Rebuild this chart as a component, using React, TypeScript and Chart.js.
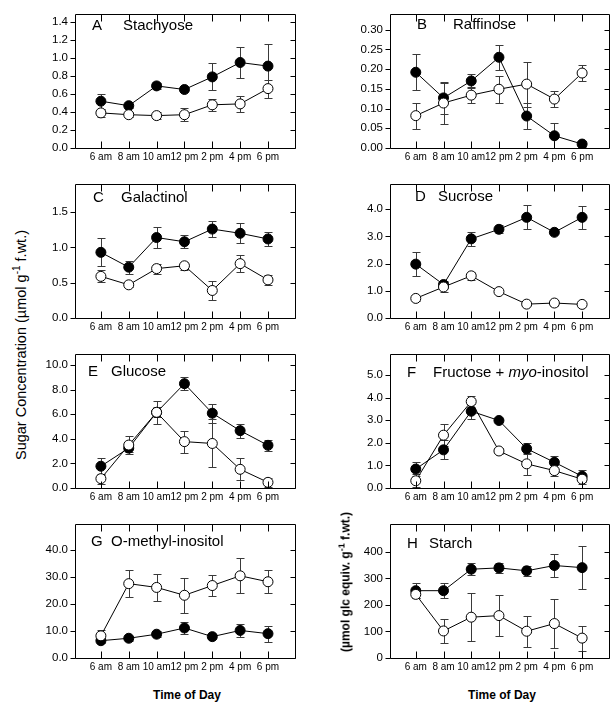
import React, { useEffect, useRef } from "react";
import { Chart, registerables } from "chart.js";
Chart.register(...registerables);

Chart.defaults.font.family = "'Liberation Sans', Arial, Helvetica, sans-serif";
Chart.defaults.color = "#000";

// ---------- data ----------
const timeLabels = ["6 am", "8 am", "10 am", "12 pm", "2 pm", "4 pm", "6 pm"];

// A Stachyose
const stachyoseDark = [0.52, 0.47, 0.69, 0.65, 0.79, 0.95, 0.91];
const stachyoseDarkErr = [0.085, 0.02, 0.03, 0.02, 0.15, 0.17, 0.25];
const stachyoseLight = [0.39, 0.37, 0.36, 0.37, 0.48, 0.49, 0.66];
const stachyoseLightErr = [0.04, 0.025, 0.04, 0.07, 0.07, 0.085, 0.1];
const stachyoseTicks = [0, 0.2, 0.4, 0.6, 0.8, 1.0, 1.2, 1.4];

// B Raffinose
const raffinoseDark = [0.192, 0.127, 0.17, 0.23, 0.081, 0.031, 0.01];
const raffinoseDarkErr = [0.046, 0.04, 0.018, 0.031, 0.032, 0.032, 0.008];
const raffinoseLight = [0.082, 0.114, 0.134, 0.149, 0.162, 0.124, 0.19];
const raffinoseLightErr = [0.033, 0.052, 0.02, 0.034, 0.057, 0.021, 0.021];
const raffinoseTicks = [0, 0.05, 0.1, 0.15, 0.2, 0.25, 0.3];

// C Galactinol
const galactinolDark = [0.93, 0.72, 1.14, 1.08, 1.26, 1.2, 1.12];
const galactinolDarkErr = [0.2, 0.09, 0.155, 0.09, 0.115, 0.14, 0.1];
const galactinolLight = [0.59, 0.47, 0.7, 0.74, 0.39, 0.77, 0.54];
const galactinolLightErr = [0.085, 0.03, 0.07, 0.06, 0.13, 0.12, 0.075];
const galactinolTicks = [0, 0.5, 1.0, 1.5];

// D Sucrose
const sucroseDark = [1.98, 1.23, 2.91, 3.26, 3.7, 3.15, 3.7];
const sucroseDarkErr = [0.43, 0.12, 0.25, 0.15, 0.44, 0.08, 0.41];
const sucroseLight = [0.72, 1.14, 1.55, 0.97, 0.51, 0.55, 0.5];
const sucroseLightErr = [0.08, 0.2, 0.14, 0.05, 0.05, 0.12, 0.05];
const sucroseTicks = [0, 1, 2, 3, 4];

// E Glucose
const glucoseDark = [1.77, 3.24, 6.15, 8.48, 6.08, 4.66, 3.47];
const glucoseDarkErr = [0.7, 0.3, 0.95, 0.53, 0.78, 0.57, 0.47];
const glucoseLight = [0.76, 3.49, 6.15, 3.77, 3.62, 1.52, 0.46];
const glucoseLightErr = [0.4, 0.75, 0.4, 0.9, 1.95, 0.9, 0.35];
const glucoseTicks = [0, 2, 4, 6, 8, 10];

// F Fructose + myo-inositol
const fructoseDark = [0.84, 1.69, 3.4, 2.99, 1.74, 1.14, 0.52];
const fructoseDarkErr = [0.3, 0.42, 0.33, 0.08, 0.24, 0.28, 0.27];
const fructoseLight = [0.32, 2.34, 3.83, 1.64, 1.07, 0.77, 0.39];
const fructoseLightErr = [0.28, 0.5, 0.25, 0.12, 0.5, 0.25, 0.2];
const fructoseTicks = [0, 1, 2, 3, 4, 5];

// G O-methyl-inositol
const omiDark = [6.4, 7.3, 8.8, 11.1, 7.9, 10.2, 9.0];
const omiDarkErr = [1, 1, 1.2, 2.3, 0.8, 2.3, 3];
const omiLight = [8.2, 27.5, 26.1, 23.2, 26.8, 30.4, 28.2];
const omiLightErr = [2.3, 5.1, 4.9, 6.4, 3.8, 6.5, 4.3];
const omiTicks = [0, 10, 20, 30, 40];

// H Starch
const starchDark = [254, 254, 335, 340, 329, 349, 341];
const starchDarkErr = [28, 28, 22, 19, 18, 43, 80];
const starchLight = [240, 102, 154, 160, 101, 130, 75];
const starchLightErr = [15, 44, 90, 76, 58, 91, 47];
const starchTicks = [0, 100, 200, 300, 400];

// ---------- panels ----------
type PanelCfg = {
  letter: string;
  title: React.ReactNode;
  dark: number[];
  darkErr: number[];
  light: number[];
  lightErr: number[];
  ticks: number[];
  yMax: number;
  decimals: number;
  col: number;
  row: number;
  titleLetterX: number;
  titleX: number;
  titleY: number;
};

const panels: PanelCfg[] = [
  { letter: "A", title: "Stachyose", dark: stachyoseDark, darkErr: stachyoseDarkErr, light: stachyoseLight, lightErr: stachyoseLightErr, ticks: stachyoseTicks, yMax: 1.49, decimals: 1, col: 0, row: 0, titleLetterX: 92, titleX: 123, titleY: 25 },
  { letter: "B", title: "Raffinose", dark: raffinoseDark, darkErr: raffinoseDarkErr, light: raffinoseLight, lightErr: raffinoseLightErr, ticks: raffinoseTicks, yMax: 0.34, decimals: 2, col: 1, row: 0, titleLetterX: 417, titleX: 453, titleY: 24 },
  { letter: "C", title: "Galactinol", dark: galactinolDark, darkErr: galactinolDarkErr, light: galactinolLight, lightErr: galactinolLightErr, ticks: galactinolTicks, yMax: 1.9, decimals: 1, col: 0, row: 1, titleLetterX: 93, titleX: 121, titleY: 197 },
  { letter: "D", title: "Sucrose", dark: sucroseDark, darkErr: sucroseDarkErr, light: sucroseLight, lightErr: sucroseLightErr, ticks: sucroseTicks, yMax: 4.93, decimals: 1, col: 1, row: 1, titleLetterX: 415, titleX: 438, titleY: 196 },
  { letter: "E", title: "Glucose", dark: glucoseDark, darkErr: glucoseDarkErr, light: glucoseLight, lightErr: glucoseLightErr, ticks: glucoseTicks, yMax: 10.9, decimals: 1, col: 0, row: 2, titleLetterX: 88, titleX: 111, titleY: 371 },
  { letter: "F", title: (<span>Fructose + <i>myo</i>-inositol</span>), dark: fructoseDark, darkErr: fructoseDarkErr, light: fructoseLight, lightErr: fructoseLightErr, ticks: fructoseTicks, yMax: 5.94, decimals: 1, col: 1, row: 2, titleLetterX: 407, titleX: 433, titleY: 372 },
  { letter: "G", title: "O-methyl-inositol", dark: omiDark, darkErr: omiDarkErr, light: omiLight, lightErr: omiLightErr, ticks: omiTicks, yMax: 49.6, decimals: 1, col: 0, row: 3, titleLetterX: 91, titleX: 111, titleY: 541 },
  { letter: "H", title: "Starch", dark: starchDark, darkErr: starchDarkErr, light: starchLight, lightErr: starchLightErr, ticks: starchTicks, yMax: 506, decimals: 0, col: 1, row: 3, titleLetterX: 407, titleX: 429, titleY: 543 },
];

const COL_CANVAS_LEFT = [40, 355];
const COL_PLOT_W = [220, 219];
const Y_AXIS_W = 35;
const X_AXIS_H = 22;
const PAD_TOP = 4;
const PLOT_H = 144;
const ROW_TOP = [0, 170, 340, 510];

const errorBarPlugin = {
  id: "errorBars",
  beforeDatasetsDraw(chart: any) {
    const ctx = chart.ctx;
    const xs = chart.scales.x;
    const ys = chart.scales.y;
    ctx.save();
    ctx.strokeStyle = "#3a3a3a";
    ctx.lineWidth = 1;
    chart.data.datasets.forEach((ds: any) => {
      const errs: number[] = ds.errors;
      if (!errs) return;
      ds.data.forEach((p: any, i: number) => {
        const px = Math.round(xs.getPixelForValue(p.x)) + 0.5;
        const yTop = Math.round(ys.getPixelForValue(p.y + errs[i])) + 0.5;
        const yBot = Math.round(ys.getPixelForValue(p.y - errs[i])) + 0.5;
        ctx.beginPath();
        ctx.moveTo(px, yTop);
        ctx.lineTo(px, yBot);
        ctx.moveTo(px - 4, yTop);
        ctx.lineTo(px + 4, yTop);
        ctx.moveTo(px - 4, yBot);
        ctx.lineTo(px + 4, yBot);
        ctx.stroke();
      });
    });
    ctx.restore();
  },
};

const framePlugin = {
  id: "frame",
  afterDraw(chart: any) {
    const ctx = chart.ctx;
    const { left, right, top, bottom } = chart.chartArea;
    const xs = chart.scales.x;
    const ys = chart.scales.y;
    const l = Math.round(left) + 0.5;
    const r = Math.round(right) + 0.5;
    const t = Math.round(top) + 0.5;
    const b = Math.round(bottom) + 0.5;
    ctx.save();
    ctx.strokeStyle = "#000";
    ctx.lineWidth = 1;
    ctx.beginPath();
    ctx.rect(l, t, r - l, b - t);
    xs.ticks.forEach((tk: any) => {
      const px = Math.round(xs.getPixelForValue(tk.value)) + 0.5;
      ctx.moveTo(px, b);
      ctx.lineTo(px, b - 7);
      ctx.moveTo(px, t);
      ctx.lineTo(px, t + 7);
    });
    ys.ticks.forEach((tk: any) => {
      const py = Math.round(ys.getPixelForValue(tk.value)) + 0.5;
      ctx.moveTo(l, py);
      ctx.lineTo(l - 5, py);
      ctx.moveTo(r, py);
      ctx.lineTo(r - 5, py);
    });
    ctx.stroke();
    ctx.restore();
  },
};

function Panel({ cfg }: { cfg: PanelCfg }) {
  const ref = useRef<HTMLCanvasElement>(null);
  const canvasLeft = COL_CANVAS_LEFT[cfg.col];
  const plotW = COL_PLOT_W[cfg.col];
  const padRight = cfg.col === 0 ? 7 : 6;
  const w = Y_AXIS_W + plotW + padRight;
  const h = PAD_TOP + PLOT_H + X_AXIS_H;
  const top = ROW_TOP[cfg.row];

  useEffect(() => {
    const ctxEl = ref.current!;
    const toPts = (arr: number[]) => arr.map((y, i) => ({ x: i, y }));
    const chart = new Chart(ctxEl, {
      type: "line",
      data: {
        datasets: [
          {
            data: toPts(cfg.light),
            errors: cfg.lightErr,
            borderColor: "#000",
            borderWidth: 1,
            pointRadius: 5,
            pointHoverRadius: 5,
            pointBackgroundColor: "#fff",
            pointBorderColor: "#000",
            pointBorderWidth: 1,
            tension: 0,
          } as any,
          {
            data: toPts(cfg.dark),
            errors: cfg.darkErr,
            borderColor: "#000",
            borderWidth: 1,
            pointRadius: 5,
            pointHoverRadius: 5,
            pointBackgroundColor: "#000",
            pointBorderColor: "#000",
            pointBorderWidth: 1,
            tension: 0,
          } as any,
        ],
      },
      options: {
        responsive: false,
        animation: false,
        events: [],
        layout: { padding: { top: PAD_TOP, right: padRight, left: 0, bottom: 0 } },
        plugins: { legend: { display: false }, tooltip: { enabled: false }, title: { display: false } },
        scales: {
          x: {
            type: "linear",
            min: -0.93,
            max: 6.97,
            afterBuildTicks: (s: any) => {
              s.ticks = timeLabels.map((_, i) => ({ value: i }));
            },
            afterFit: (s: any) => {
              s.height = X_AXIS_H;
            },
            ticks: {
              autoSkip: false,
              maxRotation: 0,
              minRotation: 0,
              padding: 3,
              font: { size: 10 },
              color: "#000",
              callback: (v: any) => timeLabels[Math.round(Number(v))] ?? "",
            },
            grid: { display: false, drawTicks: false },
            border: { display: false },
          },
          y: {
            type: "linear",
            min: 0,
            max: cfg.yMax,
            afterBuildTicks: (s: any) => {
              s.ticks = cfg.ticks.map((v) => ({ value: v }));
            },
            afterFit: (s: any) => {
              s.width = Y_AXIS_W;
            },
            ticks: {
              padding: 7,
              font: { size: 11.5 },
              color: "#000",
              callback: (v: any) => Number(v).toFixed(cfg.decimals),
            },
            grid: { display: false, drawTicks: false },
            border: { display: false },
          },
        },
      },
      plugins: [errorBarPlugin, framePlugin],
    } as any);
    return () => chart.destroy();
  }, []);

  return (
    <canvas
      ref={ref}
      width={w}
      height={h}
      style={{ position: "absolute", left: canvasLeft, top, width: w, height: h }}
    />
  );
}

const FONT = "'Liberation Sans', Arial, Helvetica, sans-serif";

export default function App() {
  return (
    <div
      style={{
        position: "absolute",
        left: 0,
        top: 0,
        width: 616,
        height: 706,
        background: "#fff",
        fontFamily: FONT,
        color: "#000",
        overflow: "hidden",
      }}
    >
      {panels.map((p) => (
        <Panel key={p.letter} cfg={p} />
      ))}
      {panels.map((p) => (
        <React.Fragment key={"t" + p.letter}>
          <div style={{ position: "absolute", left: p.titleLetterX, top: p.titleY - 8, fontSize: 15, lineHeight: "15px", whiteSpace: "nowrap" }}>
            {p.letter}
          </div>
          <div style={{ position: "absolute", left: p.titleX, top: p.titleY - 8, fontSize: 15, lineHeight: "15px", whiteSpace: "nowrap" }}>
            {p.title}
          </div>
        </React.Fragment>
      ))}
      <div
        style={{
          position: "absolute",
          left: 21,
          top: 345,
          transform: "translate(-50%, -50%) rotate(-90deg)",
          fontSize: 14.5,
          lineHeight: "16px",
          whiteSpace: "nowrap",
        }}
      >
        Sugar Concentration (µmol g<sup style={{ fontSize: 10, lineHeight: 0 }}>-1</sup> f.wt.)
      </div>
      <div
        style={{
          position: "absolute",
          left: 346,
          top: 582,
          transform: "translate(-50%, -50%) rotate(-90deg)",
          fontSize: 12,
          fontWeight: "bold",
          lineHeight: "13px",
          whiteSpace: "nowrap",
        }}
      >
        (µmol glc equiv. g<sup style={{ fontSize: 9, lineHeight: 0 }}>-1</sup> f.wt.)
      </div>
      <div style={{ position: "absolute", left: 187, top: 695, transform: "translate(-50%, -50%)", fontSize: 12, fontWeight: "bold", whiteSpace: "nowrap" }}>
        Time of Day
      </div>
      <div style={{ position: "absolute", left: 502, top: 695, transform: "translate(-50%, -50%)", fontSize: 12, fontWeight: "bold", whiteSpace: "nowrap" }}>
        Time of Day
      </div>
    </div>
  );
}
